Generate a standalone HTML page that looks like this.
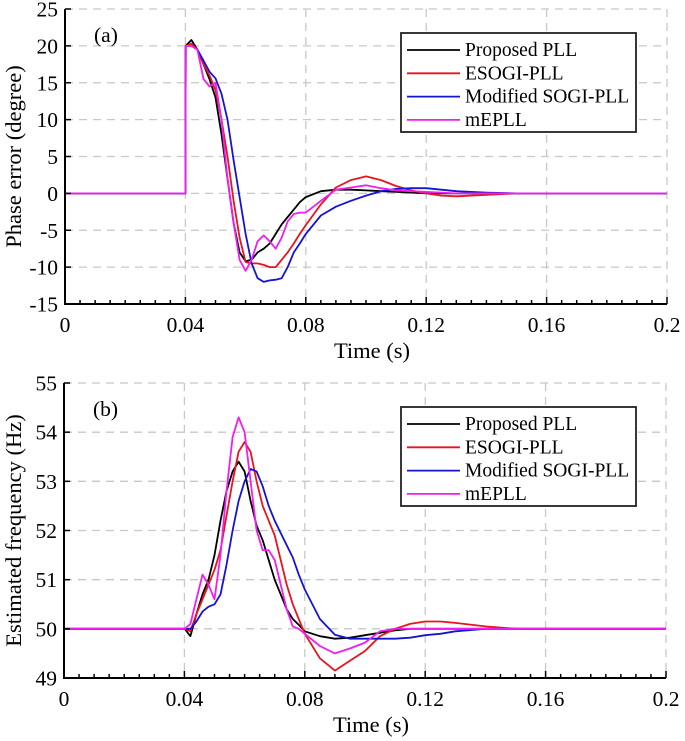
<!DOCTYPE html>
<html><head><meta charset="utf-8"><style>
body{margin:0;background:#fff}
svg{display:block;font-family:"Liberation Serif",serif}
</style></head><body>
<svg id="chart" width="685" height="741"></svg>
<script>
const T=[0,0.04,0.0401,0.042,0.044,0.046,0.048,0.05,0.052,0.054,0.056,0.058,0.06,0.062,0.064,0.066,0.068,0.07,0.072,0.074,0.076,0.078,0.08,0.085,0.09,0.095,0.1,0.105,0.11,0.115,0.12,0.125,0.13,0.14,0.15,0.16,0.2];
const seriesNames=["Proposed PLL","ESOGI-PLL","Modified SOGI-PLL","mEPLL"];
const seriesColors=["#000000","#e8141e","#1414d2","#f01ef0"];
const phaseBlack=[0,0,20,20.8,19.5,17.5,15.5,13,8,2,-4,-8,-9.2,-9,-8,-7.5,-6.8,-5.5,-4.2,-3.2,-2.2,-1.2,-0.5,0.3,0.5,0.5,0.4,0.3,0.2,0.1,0,0,0,0,0,0,0];
const phaseRed=[0,0,20,20.3,19.5,17.5,16,14,10,5,-1,-6,-9.3,-9.5,-9.5,-9.7,-10,-10,-9,-8,-6.8,-5.5,-4.3,-1.5,0.8,1.8,2.3,1.8,1.0,0.4,0,-0.3,-0.4,-0.2,0,0,0];
const phaseBlue=[0,0,20,20,19.5,18,16.5,15.6,13.5,10,4.5,-0.5,-5.5,-9.5,-11.5,-12,-11.8,-11.7,-11.5,-10,-8,-6.8,-5.5,-3,-1.8,-1,-0.3,0.3,0.6,0.7,0.7,0.5,0.3,0.1,0,0,0];
const phaseMag=[0,0,20,20,19.5,15.5,14.5,15,10,2,-4,-9,-10.5,-9,-6.5,-5.7,-6.5,-7.5,-6,-3.8,-2.8,-2.6,-2.6,-1,0.5,0.8,1.1,0.7,0.4,0.3,0.2,0.1,0,0,0,0,0];
const freqBlack=[50,50,50,49.85,50.3,50.7,51.0,51.5,52.2,52.8,53.2,53.4,53.2,52.6,52.1,51.8,51.4,51.0,50.7,50.4,50.2,50.08,49.95,49.85,49.8,49.82,49.87,49.92,49.97,50,50,50,50,50,50,50,50];
const freqRed=[50,50,50,49.95,50.3,50.6,50.9,51.2,51.6,52.3,53.0,53.6,53.8,53.6,53.0,52.5,52.2,51.9,51.4,50.9,50.5,50.2,49.9,49.4,49.15,49.35,49.55,49.85,50.0,50.1,50.15,50.15,50.12,50.05,50,50,50];
const freqBlue=[50,50,50,50,50.15,50.35,50.45,50.5,50.7,51.3,52.0,52.6,53.0,53.25,53.2,52.9,52.5,52.2,51.95,51.7,51.45,51.1,50.8,50.2,49.88,49.8,49.8,49.8,49.8,49.82,49.87,49.9,49.95,50,50,50,50];
const freqMag=[50,50,50,50.1,50.6,51.1,50.9,50.6,51.5,52.8,53.9,54.3,54.0,53.0,52.0,51.6,51.6,51.4,50.9,50.4,50.05,50.0,49.9,49.65,49.5,49.6,49.72,49.95,50,50,50,50,50,50,50,50,50];
const xTicks=[0,0.04,0.08,0.12,0.16,0.2];
const xTickLabels=["0","0.04","0.08","0.12","0.16","0.2"];
const yTicksA=[25,20,15,10,5,0,-5,-10,-15];
const yTicksB=[55,54,53,52,51,50,49];

const svg=document.getElementById('chart');
const NS='http://www.w3.org/2000/svg';
function mk(tag,attrs,parent){const e=document.createElementNS(NS,tag);for(const k in attrs)e.setAttribute(k,attrs[k]);(parent||svg).appendChild(e);return e;}

function panel(cfg){
  const g=mk('g',{});
  
  
  const xs=t=>cfg.x0+(t/0.2)*(cfg.x1-cfg.x0);
  const ys=v=>cfg.y1+(v-cfg.vmin)/(cfg.vmax-cfg.vmin)*(cfg.y0-cfg.y1);
  xTicks.forEach(t=>{if(t>0){const l=mk('line',{x1:xs(t),x2:xs(t),y1:cfg.y0,y2:cfg.y1,stroke:'#c8c8c8','stroke-width':1.3,'stroke-dasharray':'8,6'},g);
    }});
  cfg.yt.forEach(v=>{if(v!==cfg.vmin){const l=mk('line',{x1:cfg.x0,x2:cfg.x1,y1:ys(v),y2:ys(v),stroke:'#c8c8c8','stroke-width':1.3,'stroke-dasharray':'8,6'},g);
    }});
  cfg.series.forEach((arr,i)=>{
    const d=arr.map((v,j)=>(j?'L':'M')+xs(T[j]).toFixed(1)+','+ys(v).toFixed(1)).join(' ');
    const p=mk('path',{d:d,fill:'none',stroke:seriesColors[i],'stroke-width':1.8,'stroke-linejoin':'round'},g);
    
    
  });
  const ax=mk('path',{d:`M${cfg.x0},${cfg.y0} L${cfg.x0},${cfg.y1} L${cfg.x1},${cfg.y1}`,fill:'none',stroke:'#000','stroke-width':2},g);
  
  for(let k=0;k<=40;k++){const t=k*0.005;const maj=k%8===0;
    mk('line',{x1:xs(t),x2:xs(t),y1:cfg.y1,y2:cfg.y1-(maj?7:4),stroke:'#000','stroke-width':1.5},g);}
  cfg.yt.forEach(v=>{mk('line',{x1:cfg.x0,x2:cfg.x0+6,y1:ys(v),y2:ys(v),stroke:'#000','stroke-width':1.5},g);
    const tx=mk('text',{x:cfg.x0-7,y:ys(v)+7.5,'text-anchor':'end','font-size':21.5},g);tx.textContent=v;
    });
  xTicks.forEach((t,i)=>{const tx=mk('text',{x:xs(t),y:cfg.y1+28,'text-anchor':'middle','font-size':21.5},g);tx.textContent=xTickLabels[i];
    });
  const xt=mk('text',{x:(cfg.x0+cfg.x1)/2+6,y:cfg.y1+54,'text-anchor':'middle','font-size':22.5},g);xt.textContent='Time (s)';
  
  const yt=mk('text',{x:0,y:0,'text-anchor':'middle','font-size':22.5,transform:`translate(21,${(cfg.y0+cfg.y1)/2}) rotate(-90)`},g);yt.textContent=cfg.ytitle;
  
  const pl=mk('text',{x:cfg.x0+29,y:cfg.y0+33,'font-size':21.5},g);pl.textContent=cfg.label;
  
  const lg=mk('g',{},g);
  mk('rect',{x:401,y:cfg.ly,width:235,height:99,fill:'#fff',stroke:'#222','stroke-width':1.8},lg);
  seriesNames.forEach((n,i)=>{const yy=cfg.ly+17+i*23.3;
    const en=mk('g',{},lg);
    mk('line',{x1:407,x2:460,y1:yy,y2:yy,stroke:seriesColors[i],'stroke-width':1.8},en);
    const tx=mk('text',{x:465,y:yy+6,'font-size':19.5},en);tx.textContent=n;});
}
panel({name:'phase-error-panel',x0:65,x1:667,y0:9,y1:304,vmin:-15,vmax:25,yt:yTicksA,ytitle:'Phase error (degree)',label:'(a)',ly:33,series:[phaseBlack,phaseRed,phaseBlue,phaseMag]});
panel({name:'frequency-panel',x0:64,x1:666,y0:383,y1:678,vmin:49,vmax:55,yt:yTicksB,ytitle:'Estimated frequency (Hz)',label:'(b)',ly:407,series:[freqBlack,freqRed,freqBlue,freqMag]});
</script>
</body></html>
